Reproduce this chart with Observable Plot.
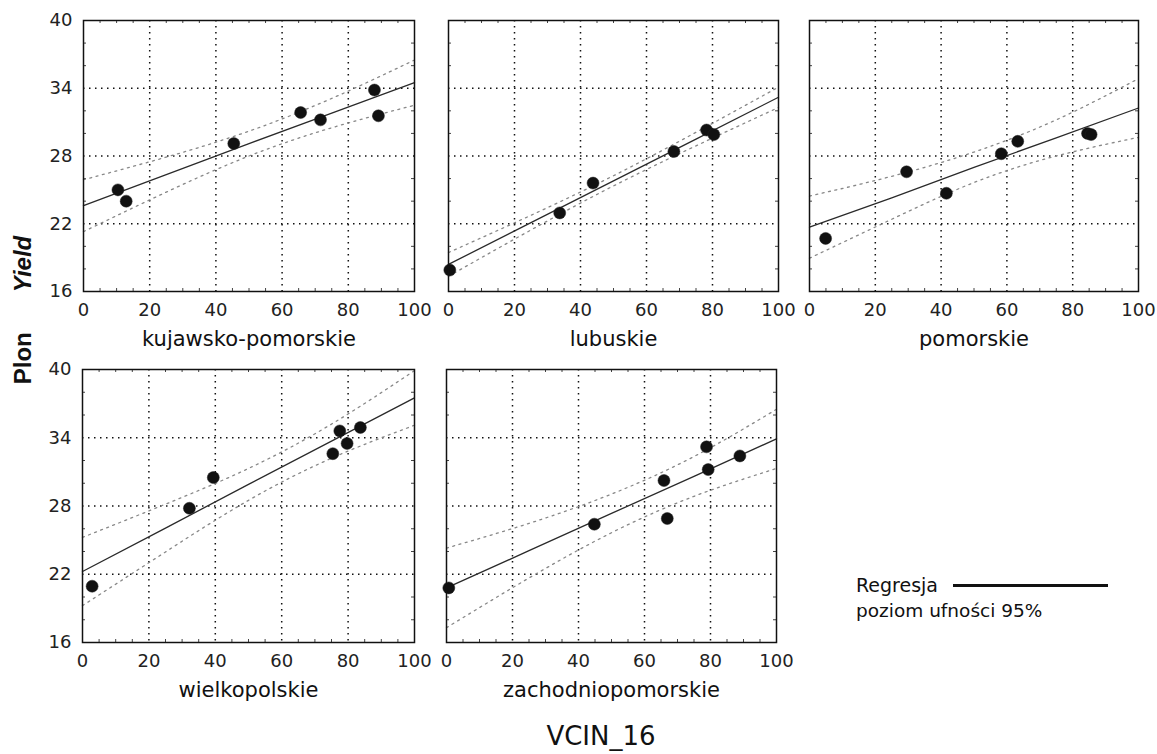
<!DOCTYPE html>
<html><head><meta charset="utf-8">
<script src="https://cdn.jsdelivr.net/npm/d3@7"></script>
<script src="https://cdn.jsdelivr.net/npm/@observablehq/plot@0.6"></script>
<style>
body{margin:0;background:#fff;}
#c{position:relative;width:1157px;height:754px;overflow:hidden;font-family:"DejaVu Sans",sans-serif;color:#111;background:#fff;}
.abs{position:absolute;white-space:nowrap;}
</style></head><body><div id="c"></div>
<script>
// ---- data ----
const regions = ["kujawsko-pomorskie", "lubuskie", "pomorskie", "wielkopolskie", "zachodniopomorskie"];
const xTicks = [0, 20, 40, 60, 80, 100];
const yTicks = [16, 22, 28, 34, 40];
const xGrid = [20, 40, 60, 80];
const yGrid = [22, 28, 34];
const xMinor = [5, 10, 15, 25, 30, 35, 45, 50, 55, 65, 70, 75, 85, 90, 95];
const yMinor = [18, 20, 24, 26, 30, 32, 36, 38];
const fitX = [0, 25, 50, 75, 100];

// kujawsko-pomorskie
const kpX = [10.4, 12.9, 45.4, 65.6, 71.6, 87.9, 89.1];
const kpY = [25.0, 24.0, 29.1, 31.85, 31.2, 33.84, 31.56];
const kpFit = [23.6, 26.35, 29.1, 31.8, 34.5];
const kpHi = [25.9, 27.9, 30.2, 33.1, 36.5];
const kpLo = [21.3, 24.8, 28.0, 30.5, 32.5];
// lubuskie
const lbX = [0.4, 33.7, 43.8, 68.3, 78.2, 80.4];
const lbY = [17.9, 22.96, 25.6, 28.4, 30.3, 29.9];
const lbFit = [18.4, 22.1, 25.8, 29.5, 33.2];
const lbHi = [19.45, 22.75, 26.25, 30.1, 34.1];
const lbLo = [17.35, 21.45, 25.35, 28.9, 32.3];
// pomorskie
const pmX = [4.9, 29.5, 41.6, 58.3, 63.3, 84.5, 85.6];
const pmY = [20.7, 26.6, 24.7, 28.2, 29.3, 30.0, 29.9];
const pmFit = [21.7, 24.3, 27.0, 29.6, 32.25];
const pmHi = [24.45, 26.2, 28.35, 31.2, 34.85];
const pmLo = [18.95, 22.4, 25.65, 28.0, 29.65];
// wielkopolskie
const wpX = [2.9, 32.2, 39.4, 75.4, 77.5, 79.7, 83.7];
const wpY = [20.95, 27.8, 30.5, 32.6, 34.6, 33.5, 34.9];
const wpFit = [22.24, 26.06, 29.9, 33.7, 37.5];
const wpHi = [25.24, 28.16, 31.3, 35.2, 39.9];
const wpLo = [19.24, 23.96, 28.5, 32.2, 35.1];
// zachodniopomorskie
const zpX = [0.7, 44.8, 65.9, 66.9, 78.8, 79.3, 88.9];
const zpY = [20.8, 26.4, 30.24, 26.9, 33.2, 31.2, 32.4];
const zpFit = [20.8, 24.07, 27.35, 30.6, 33.9];
const zpHi = [24.3, 26.47, 29.05, 32.35, 36.5];
const zpLo = [17.3, 21.67, 25.65, 28.85, 31.3];

// ---- layout ----
const panels = [
  {name: regions[0], x: kpX, y: kpY, fit: kpFit, hi: kpHi, lo: kpLo, left: 83, top: 20, w: 331, h: 271, yLab: true},
  {name: regions[1], x: lbX, y: lbY, fit: lbFit, hi: lbHi, lo: lbLo, left: 448, top: 20, w: 330, h: 271, yLab: false},
  {name: regions[2], x: pmX, y: pmY, fit: pmFit, hi: pmHi, lo: pmLo, left: 809, top: 20, w: 329, h: 271, yLab: false},
  {name: regions[3], x: wpX, y: wpY, fit: wpFit, hi: wpHi, lo: wpLo, left: 82, top: 369, w: 332, h: 273, yLab: true},
  {name: regions[4], x: zpX, y: zpY, fit: zpFit, hi: zpHi, lo: zpLo, left: 446, top: 369, w: 330, h: 273, yLab: false}
];

const c = document.getElementById("c");

for (const p of panels) {
  const ml = p.yLab ? 60 : 20, mr = 25, mt = 10, mb = 75;
  const pts = p.x.map((x, i) => ({x, y: p.y[i]}));
  const fit = fitX.map((x, i) => ({x, fit: p.fit[i], hi: p.hi[i], lo: p.lo[i]}));
  const svg = Plot.plot({
    width: p.w + ml + mr,
    height: p.h + mt + mb,
    marginLeft: ml, marginRight: mr, marginTop: mt, marginBottom: mb,
    x: {domain: [0, 100]},
    y: {domain: [16, 40], axis: p.yLab ? undefined : null},
    style: {background: "transparent", overflow: "visible", fontFamily: "DejaVu Sans, sans-serif", fontSize: "18px", color: "#111"},
    marks: [
      Plot.gridX(xGrid, {stroke: "#111", strokeOpacity: 1, strokeWidth: 1.5, strokeDasharray: "1.5,4.5"}),
      Plot.gridY(yGrid, {stroke: "#111", strokeOpacity: 1, strokeWidth: 1.5, strokeDasharray: "1.5,4.5"}),
      Plot.tickX(xMinor, {x: d => d, stroke: "#444", insetTop: p.h - 3}),
      Plot.tickX(xMinor, {x: d => d, stroke: "#444", insetBottom: p.h - 3}),
      Plot.tickY(yMinor, {y: d => d, stroke: "#444", insetRight: p.w - 3}),
      Plot.tickY(yMinor, {y: d => d, stroke: "#444", insetLeft: p.w - 3}),
      Plot.line(fit, {x: "x", y: "hi", curve: "natural", stroke: "#888", strokeWidth: 1.3, strokeDasharray: "2,4.5"}),
      Plot.line(fit, {x: "x", y: "lo", curve: "natural", stroke: "#888", strokeWidth: 1.3, strokeDasharray: "2,4.5"}),
      Plot.line(fit, {x: "x", y: "fit", stroke: "#2a2a2a", strokeWidth: 1.3}),
      Plot.dot(pts, {x: "x", y: "y", r: 6, fill: "#111", stroke: "#222", strokeWidth: 0.5}),
      Plot.frame({stroke: "#111", strokeWidth: 1.5}),
      Plot.axisX(xTicks, {tickSize: 0, tickPadding: 12, fontSize: 18, fill: "#222", label: null}),
      ...(p.yLab ? [Plot.axisY(yTicks, {tickSize: 0, tickPadding: 11, fontSize: 18, fill: "#222", label: null})] : []),
      Plot.text([p.name], {text: d => d, frameAnchor: "bottom", dy: 54, fontSize: 21, fill: "#111"})
    ]
  });
  svg.style.position = "absolute";
  svg.style.left = (p.left - ml) + "px";
  svg.style.top = (p.top - mt) + "px";
  c.appendChild(svg);
}

// y axis title
const yt = document.createElement("div");
yt.style.cssText = "position:absolute;left:-77px;top:295px;width:200px;height:30px;line-height:30px;text-align:center;transform:rotate(-90deg);font-family:'Liberation Sans',Arial,sans-serif;font-weight:bold;font-size:24px;color:#111;white-space:nowrap;";
yt.innerHTML = '<span>Plon</span><span style="display:inline-block;width:40px"></span><span style="font-style:italic">Yield</span>';
c.appendChild(yt);

// x axis title
const xt = document.createElement("div");
xt.className = "abs";
xt.style.cssText = "left:451px;top:723px;width:300px;text-align:center;font-size:26px;line-height:26px;";
xt.textContent = "VCIN_16";
c.appendChild(xt);

// legend
const l1 = document.createElement("div");
l1.className = "abs";
l1.style.cssText = "left:856px;top:576px;font-size:19px;line-height:19px;";
l1.textContent = "Regresja";
c.appendChild(l1);
const ln = document.createElement("div");
ln.className = "abs";
ln.style.cssText = "left:953px;top:584px;width:155px;height:3px;background:#111;";
c.appendChild(ln);
const l2 = document.createElement("div");
l2.className = "abs";
l2.style.cssText = "left:856px;top:601px;font-size:18.5px;line-height:19px;";
l2.textContent = "poziom ufności 95%";
c.appendChild(l2);
</script>
</body></html>
